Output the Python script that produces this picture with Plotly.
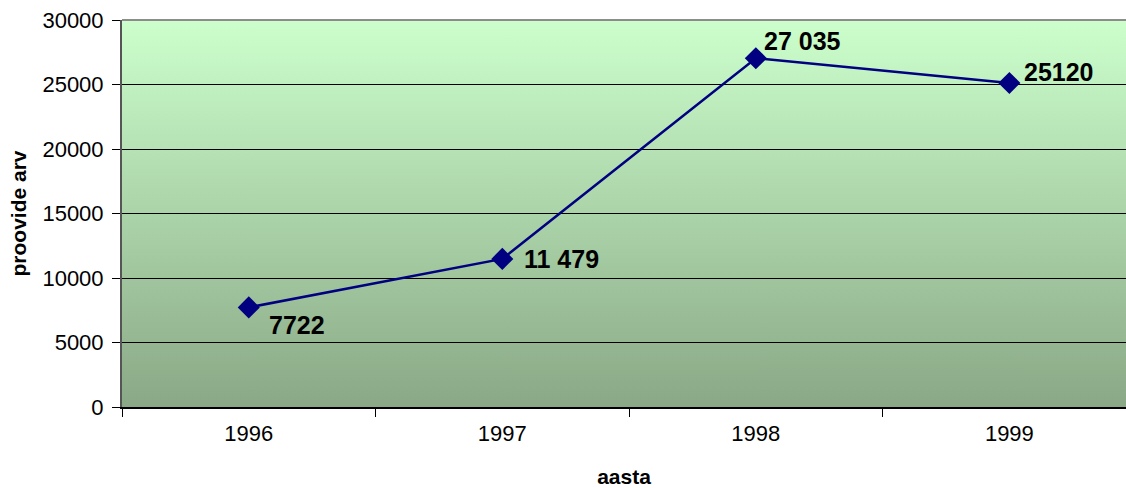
import plotly.graph_objects as go
import urllib.parse

years = ["1996", "1997", "1998", "1999"]
values = [7722, 11479, 27035, 25120]
value_labels = ["7722", "11 479", "27 035", "25120"]
label_shift_x = [18, 20, 6, 13]
label_shift_y = [-18, 0, 17, 11]

svg = ("<svg xmlns='http://www.w3.org/2000/svg' width='100' height='100' preserveAspectRatio='none'>"
       "<defs><linearGradient id='g' x1='0' y1='0' x2='0' y2='1'>"
       "<stop offset='0' stop-color='#CCFFCC'/><stop offset='1' stop-color='#8AA886'/>"
       "</linearGradient></defs><rect width='100' height='100' fill='url(#g)'/></svg>")
src = "data:image/svg+xml;charset=utf-8," + urllib.parse.quote(svg)

fig = go.Figure()
fig.add_trace(go.Scatter(
    x=years, y=values, mode="lines+markers",
    line=dict(color="#000080", width=2.5),
    marker=dict(symbol="diamond", size=17, color="#000080"),
    showlegend=False, cliponaxis=False,
))

for i, (v, t, dx, dy) in enumerate(zip(values, value_labels, label_shift_x, label_shift_y)):
    fig.add_annotation(x=i, y=v, xref="x", yref="y", text="<b>" + t + "</b>", showarrow=False,
                       xanchor="left", yanchor="middle", xshift=dx, yshift=dy,
                       font=dict(family="Liberation Sans, Arial", size=25, color="black"))

fig.add_layout_image(dict(source=src, xref="paper", yref="paper", x=0, y=1, sizex=1, sizey=1,
                          sizing="stretch", layer="below", xanchor="left", yanchor="top"))

fig.add_shape(type="line", xref="paper", yref="paper", x0=0, x1=1, y0=1, y1=1,
              line=dict(color="#8c8c8c", width=2))

fig.update_layout(
    width=1126, height=488,
    margin=dict(l=122, r=0, t=20, b=81),
    paper_bgcolor="white", plot_bgcolor="rgba(0,0,0,0)",
    font=dict(family="Liberation Sans, Arial", size=22, color="black"),
    xaxis=dict(
        type="category", range=[-0.5, 3.46],
        tickson="boundaries", ticks="outside", ticklen=8, tickcolor="black",
        showgrid=False, showline=True, linecolor="black", linewidth=2,
        tickfont=dict(size=22), ticklabelstandoff=6,
        title=dict(text="<b>aasta</b>", font=dict(size=21), standoff=25),
    ),
    yaxis=dict(
        range=[0, 30000], dtick=5000, tickformat="d", ticks="outside", ticklen=8, tickcolor="black",
        showgrid=True, gridcolor="black", gridwidth=1, zeroline=False,
        showline=True, linecolor="#555555", linewidth=2,
        tickfont=dict(size=22), ticklabelstandoff=4,
        title=dict(text="<b>proovide arv</b>", font=dict(size=21), standoff=10),
    ),
)

fig.write_html("out.html")
